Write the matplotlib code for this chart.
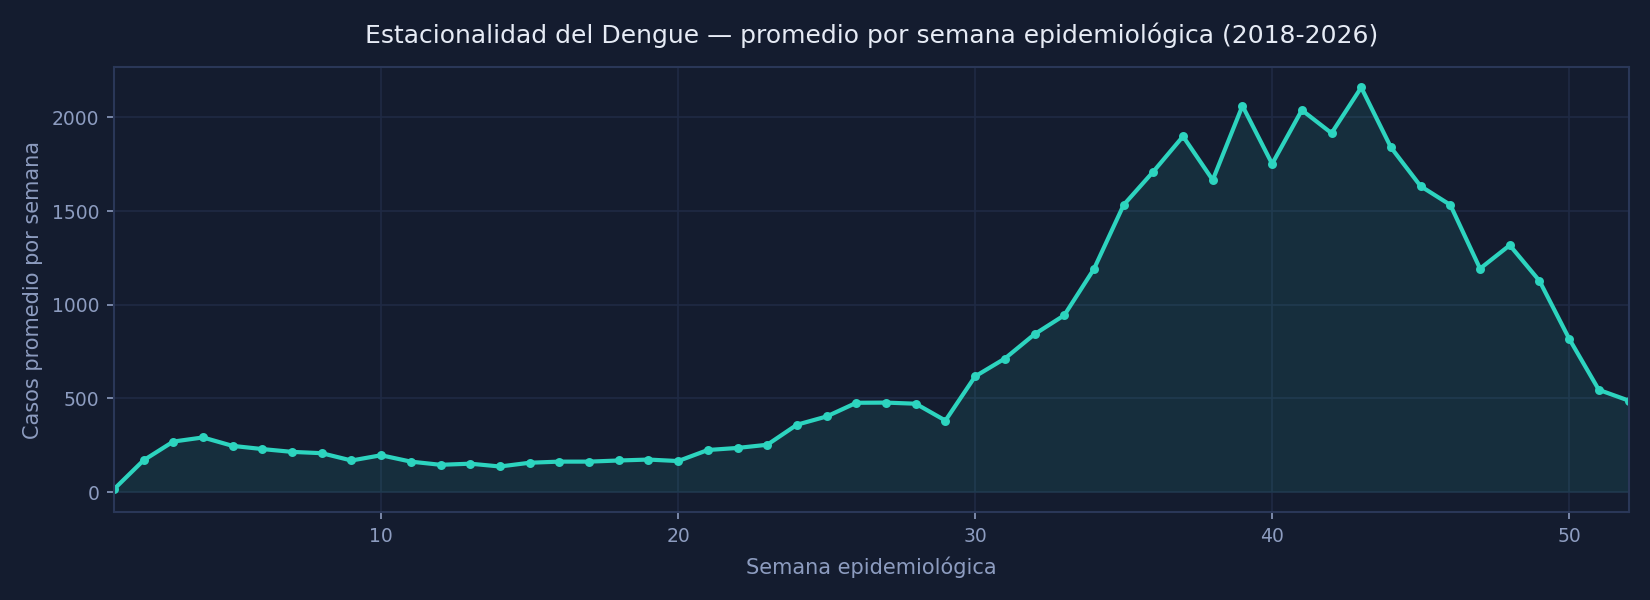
import numpy as np
import matplotlib
matplotlib.use("Agg")
import matplotlib.pyplot as plt

# Promedio de casos por semana epidemiológica (2018-2026)
semanas = list(range(1, 53))
casos_promedio = [
    15, 170, 270, 292, 247, 230, 215, 208, 169, 197,
    163, 146, 152, 137, 157, 163, 163, 169, 174, 166,
    225, 236, 253, 360, 404, 477, 478, 472, 382, 618,
    713, 843, 944, 1191, 1533, 1711, 1899, 1666, 2062, 1752,
    2039, 1916, 2160, 1840, 1633, 1533, 1193, 1318, 1128, 819,
    546, 489,
]

BG = "#141c2f"
LINE = "#2dd4bf"
GRID = "#1f2a44"
SPINE = "#2a3758"
TICK = "#8d9cc0"
TITLE = "#e6ebf5"

fig = plt.figure(figsize=(11, 4), dpi=150, facecolor=BG)
ax = fig.add_axes([0.069, 0.146, 0.918, 0.742])
ax.set_facecolor(BG)

ax.fill_between(semanas, casos_promedio, 0, color=LINE, alpha=0.10, linewidth=0)
ax.plot(semanas, casos_promedio, color=LINE, linewidth=2.0, marker="o", markersize=3.3)

ax.set_xlim(1, 52)
ax.grid(True, color=GRID, linewidth=0.8)
ax.set_axisbelow(True)

for s in ax.spines.values():
    s.set_color(SPINE)
    s.set_linewidth(1.0)
ax.tick_params(colors=TICK, labelcolor=TICK, labelsize=9, length=3.5)

ax.set_title("Estacionalidad del Dengue — promedio por semana epidemiológica (2018-2026)",
             color=TITLE, fontsize=12, pad=11.5)
ax.set_xlabel("Semana epidemiológica", color=TICK, fontsize=10, labelpad=5)
ax.set_ylabel("Casos promedio por semana", color=TICK, fontsize=10)

fig.savefig("out.png", dpi=150, facecolor=BG)
